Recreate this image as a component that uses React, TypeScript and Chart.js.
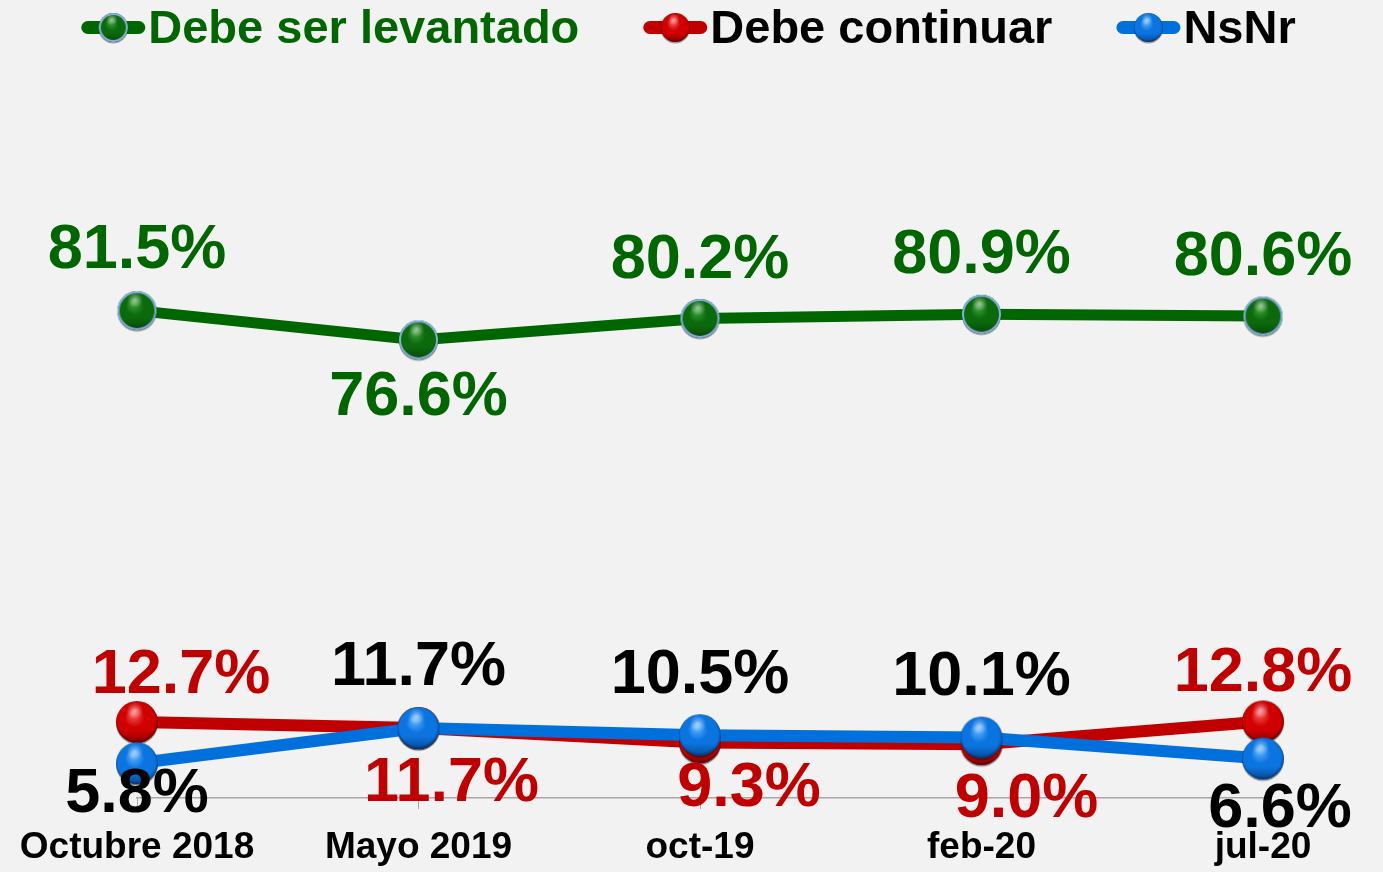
import { useEffect, useRef } from "react";
import { Chart, registerables } from "chart.js";

Chart.register(...registerables);

// ---------- data ----------
const categories = ["Octubre 2018", "Mayo 2019", "oct-19", "feb-20", "jul-20"];
const seriesNames = ["Debe ser levantado", "Debe continuar", "NsNr"];
const levantado = [81.5, 76.6, 80.2, 80.9, 80.6];
const continuar = [12.7, 11.7, 9.3, 9.0, 12.8];
const nsnr = [5.8, 11.7, 10.5, 10.1, 6.6];

// ---------- label placement (relative to each point) ----------
const levantadoLabelOffsets = [[0, -65], [0, 53], [0, -63], [0, -64], [0, -64]];
const continuarLabelOffsets = [[44, -52], [33, 50], [49, 41], [45, 50], [0, -53]];
const nsnrLabelOffsets = [[0, 26], [0, -66], [0, -65], [0, -65], [17, 46]];

// ---------- styles ----------
const FONT = "'Liberation Sans', Arial, Helvetica, sans-serif";
const BG = "#f2f2f2";
const lineColors = ["#006600", "#c00000", "#0070dd"];
const labelColors = ["#006600", "#c00000", "#000000"];
const legendTextColors = ["#006600", "#000000", "#000000"];
const LABEL_FONT = 63;
const LEGEND_FONT = 47;

type SphereSpec = { base: string; light: string; dark: string; ring?: string };
const sphereSpecs: SphereSpec[] = [
  { base: "#0b6a0b", light: "#3fa43f", dark: "#022c02", ring: "#82aedd" },
  { base: "#d00000", light: "#ff6060", dark: "#6a0000" },
  { base: "#0a74e0", light: "#66b8ff", dark: "#053c80" },
];

function makeSphere(d: number, spec: SphereSpec): HTMLCanvasElement {
  const pad = 3;
  const size = Math.ceil(d + pad * 2);
  const c = document.createElement("canvas");
  c.width = size;
  c.height = size;
  const ctx = c.getContext("2d")!;
  const cx = size / 2;
  const cy = size / 2;
  const r = d / 2;
  ctx.beginPath();
  ctx.arc(cx, cy + 1.5, r, 0, Math.PI * 2);
  ctx.fillStyle = "rgba(0,0,0,0.35)";
  ctx.fill();
  const g = ctx.createRadialGradient(cx - r * 0.2, cy - r * 0.4, 0, cx, cy, r * 1.05);
  g.addColorStop(0, spec.light);
  g.addColorStop(0.45, spec.base);
  g.addColorStop(0.85, spec.base);
  g.addColorStop(1, spec.dark);
  ctx.beginPath();
  ctx.arc(cx, cy, r, 0, Math.PI * 2);
  ctx.fillStyle = g;
  ctx.fill();
  const g2 = ctx.createLinearGradient(0, cy - r, 0, cy + r);
  g2.addColorStop(0, "rgba(0,0,0,0)");
  g2.addColorStop(0.7, "rgba(0,0,0,0)");
  g2.addColorStop(1, "rgba(0,0,0,0.35)");
  ctx.beginPath();
  ctx.arc(cx, cy, r, 0, Math.PI * 2);
  ctx.fillStyle = g2;
  ctx.fill();
  const hx = cx - r * 0.1;
  const hy = cy - r * 0.55;
  const hg = ctx.createRadialGradient(hx, hy, 0, hx, hy, r * 0.4);
  hg.addColorStop(0, "rgba(255,255,255,0.55)");
  hg.addColorStop(1, "rgba(255,255,255,0)");
  ctx.beginPath();
  ctx.arc(hx, hy, r * 0.4, 0, Math.PI * 2);
  ctx.fillStyle = hg;
  ctx.fill();
  if (spec.ring) {
    ctx.beginPath();
    ctx.arc(cx, cy, r - 1, 0, Math.PI * 2);
    ctx.lineWidth = 2;
    ctx.strokeStyle = spec.ring;
    ctx.stroke();
  }
  return c;
}

export default function App() {
  const canvasRef = useRef<HTMLCanvasElement | null>(null);

  useEffect(() => {
    document.body.style.margin = "0";
    document.body.style.background = BG;
    const canvas = canvasRef.current;
    if (!canvas) return;

    const pointSpheres = [
      makeSphere(39, sphereSpecs[0]),
      makeSphere(42, sphereSpecs[1]),
      makeSphere(42, sphereSpecs[2]),
    ];
    const legendSpheres = sphereSpecs.map((s) => makeSphere(29, s));
    const labelOffsets = [levantadoLabelOffsets, continuarLabelOffsets, nsnrLabelOffsets];

    const bgPlugin = {
      id: "bgFill",
      beforeDraw(chart: any) {
        const ctx = chart.ctx;
        ctx.save();
        ctx.fillStyle = BG;
        ctx.fillRect(0, 0, chart.width, chart.height);
        ctx.restore();
      },
    };

    const labelPlugin = {
      id: "valueLabels",
      afterDatasetsDraw(chart: any) {
        const ctx = chart.ctx;
        ctx.save();
        ctx.font = `bold ${LABEL_FONT}px ${FONT}`;
        ctx.textAlign = "center";
        ctx.textBaseline = "alphabetic";
        chart.data.datasets.forEach((ds: any, i: number) => {
          const meta = chart.getDatasetMeta(i);
          meta.data.forEach((pt: any, j: number) => {
            const [dx, dy] = labelOffsets[i][j];
            ctx.fillStyle = labelColors[i];
            const text = Number(ds.data[j]).toFixed(1) + "%";
            ctx.fillText(text, pt.x + dx, pt.y + dy + (0.716 * LABEL_FONT) / 2);
          });
        });
        ctx.restore();
      },
    };

    const legendPlugin = {
      id: "sphereLegend",
      afterDraw(chart: any) {
        const ctx = chart.ctx;
        ctx.save();
        ctx.font = `bold ${LEGEND_FONT}px ${FONT}`;
        const iconW = 64;
        const gapText = 3;
        const gapItem = 64;
        const names = chart.data.datasets.map((d: any) => d.label);
        const widths = names.map((n: string) => ctx.measureText(n).width);
        const total =
          widths.reduce((a: number, w: number) => a + iconW + gapText + w, 0) +
          gapItem * (names.length - 1);
        let x = (chart.width - total) / 2 - 3;
        const iconY = 27.5;
        const textY = 26;
        chart.data.datasets.forEach((ds: any, i: number) => {
          ctx.strokeStyle = lineColors[i];
          ctx.lineWidth = 13;
          ctx.lineCap = "round";
          ctx.beginPath();
          ctx.moveTo(x + 6.5, iconY);
          ctx.lineTo(x + iconW - 6.5, iconY);
          ctx.stroke();
          const img = legendSpheres[i];
          ctx.drawImage(img, x + iconW / 2 - img.width / 2, iconY - img.height / 2);
          ctx.fillStyle = legendTextColors[i];
          ctx.textAlign = "left";
          ctx.textBaseline = "alphabetic";
          ctx.fillText(ds.label, x + iconW + gapText, textY + (0.716 * LEGEND_FONT) / 2);
          x += iconW + gapText + widths[i] + gapItem;
        });
        ctx.restore();
      },
    };

    const seriesData = [levantado, continuar, nsnr];
    const drawOrder = [2, 1, 0];

    const chart = new Chart(canvas, {
      type: "line",
      data: {
        labels: categories,
        datasets: seriesData.map((d, i) => ({
          label: seriesNames[i],
          data: d,
          borderColor: lineColors[i],
          backgroundColor: lineColors[i],
          borderWidth: i === 0 ? 11 : 12,
          pointStyle: pointSpheres[i] as any,
          pointRadius: 21,
          pointHoverRadius: 21,
          tension: 0,
          fill: false,
          clip: false as any,
          order: drawOrder[i],
        })),
      },
      options: {
        animation: false,
        responsive: false,
        maintainAspectRatio: false,
        devicePixelRatio: 1,
        events: [],
        layout: { padding: { left: 137, right: 120, top: 200, bottom: 0 } },
        plugins: {
          legend: { display: false },
          tooltip: { enabled: false },
          title: { display: false },
        },
        scales: {
          x: {
            type: "category",
            offset: false,
            grid: {
              display: true,
              drawOnChartArea: false,
              drawTicks: true,
              tickLength: 11,
              color: "#a6a6a6",
              lineWidth: 1,
            },
            border: { display: true, color: "#a6a6a6", width: 1.5 },
            ticks: {
              color: "#000000",
              font: { family: FONT, size: 37, weight: "bold" },
              padding: 17,
              maxRotation: 0,
              minRotation: 0,
              autoSkip: false,
            },
            afterFit: (scale: any) => {
              scale.height = 74;
            },
          },
          y: {
            display: false,
            min: 0,
            max: 100,
          },
        },
      },
      plugins: [bgPlugin, labelPlugin, legendPlugin],
    });

    return () => {
      chart.destroy();
    };
  }, []);

  return (
    <div style={{ position: "absolute", left: 0, top: 0, width: 1383, height: 872, background: BG }}>
      <canvas ref={canvasRef} width={1383} height={872} style={{ display: "block" }} />
    </div>
  );
}
